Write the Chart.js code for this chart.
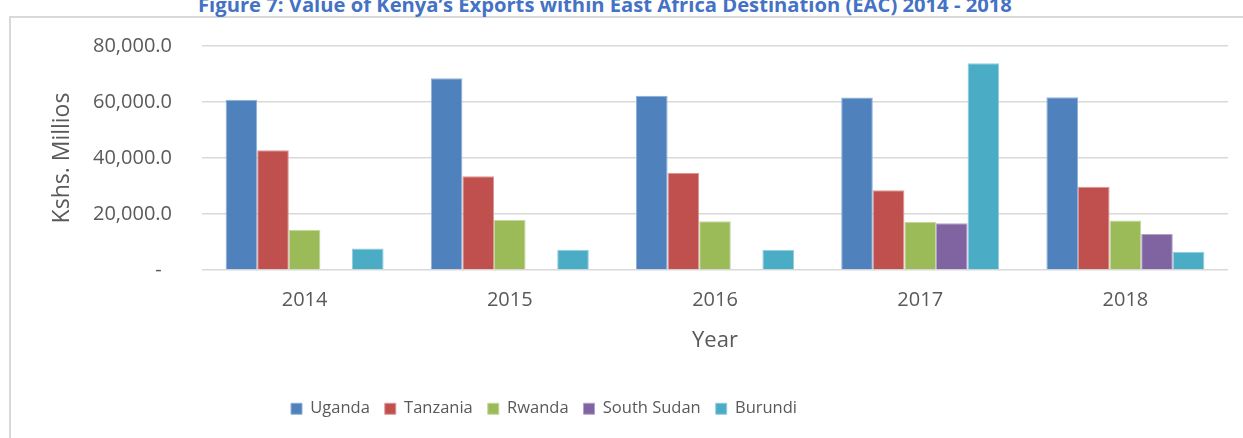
<!DOCTYPE html>
<html><head><meta charset="utf-8">
<script src="https://cdn.jsdelivr.net/npm/chart.js@4"></script>
<style>
html,body{margin:0;padding:0;background:#fff;overflow:hidden;}
#wrap{position:relative;width:1243px;height:438px;overflow:hidden;background:#fff;}
#title{position:absolute;left:198px;top:-6px;font:bold 20.2px "Open Sans",sans-serif;color:#4472C4;white-space:nowrap;line-height:20px;}
#frame{position:absolute;left:9px;top:16px;width:1400px;height:600px;border-left:2px solid #D9D9D9;border-top:2px solid #D9D9D9;}
canvas{position:absolute;left:0;top:0;}
</style></head><body>
<div id="wrap">
<div id="frame"></div>
<div id="title">Figure 7: Value of Kenya’s Exports within East Africa Destination (EAC) 2014 - 2018</div>
<canvas id="c" width="1243" height="438"></canvas>
</div>
<script>
const categories = ['2014', '2015', '2016', '2017', '2018'];
const uganda     = [60800, 68500, 62200, 61600, 61700];
const tanzania   = [42800, 33500, 34700, 28500, 29700];
const rwanda     = [14400, 17900, 17400, 17100, 17700];
const southSudan = [null, null, null, 16700, 12900];
const burundi    = [7700, 7200, 7100, 73800, 6500];
const seriesNames = ['Uganda', 'Tanzania', 'Rwanda', 'South Sudan', 'Burundi'];
const yTicks = [0, 20000, 40000, 60000, 80000];
const yTitle = 'Kshs. Millios';
const xTitle = 'Year';

const colors = ['#4F81BD', '#C0504D', '#9BBB59', '#8064A2', '#4BACC6'];
const edges  = ['#8EB1DC', '#DC9896', '#C3D89E', '#B3A2C8', '#93CDDD'];
const seriesData = [uganda, tanzania, rwanda, southSudan, burundi];

Chart.defaults.font.family = "'Open Sans', sans-serif";

const legendShift = {
  id: 'legendShift',
  afterLayout(chart) {
    const l = chart.legend;
    if (!l) return;
    const dx = 544 - (l.left + l.right) / 2;
    l.left += dx; l.right += dx;
  }
};

new Chart(document.getElementById('c'), {
  type: 'bar',
  data: {
    labels: categories,
    datasets: seriesData.map((d, i) => ({
      label: seriesNames[i],
      data: d,
      backgroundColor: colors[i],
      borderColor: edges[i],
      borderWidth: 1,
      categoryPercentage: 0.77,
      barPercentage: 1.0
    }))
  },
  options: {
    responsive: false,
    animation: false,
    layout: { padding: { left: 0, right: 15, top: 46, bottom: 11 } },
    plugins: {
      tooltip: { enabled: false },
      legend: {
        position: 'bottom',
        labels: {
          boxWidth: 11, boxHeight: 11,
          padding: 15,
          color: '#595959',
          font: { size: 16.5 }
        }
      }
    },
    scales: {
      x: {
        grid: { display: false, drawTicks: false },
        border: { display: false },
        ticks: { color: '#595959', font: { size: 20 }, padding: 18 },
        title: { display: true, text: xTitle, color: '#595959', font: { size: 22 }, padding: { top: 0, bottom: 32 } },
        afterFit(s) { s.height = 115.5; }
      },
      y: {
        min: 0, max: 80000,
        afterBuildTicks(s) { s.ticks = yTicks.map(v => ({ value: v })); },
        grid: { color: '#D9D9D9', lineWidth: 1.6, drawTicks: false },
        border: { display: false },
        ticks: {
          color: '#595959', font: { size: 20 }, padding: 30,
          callback(v) {
            if (v === 0) return '-  ';
            return v.toLocaleString('en-US', { minimumFractionDigits: 1, maximumFractionDigits: 1 });
          }
        },
        title: { display: true, text: yTitle, color: '#595959', font: { size: 23 }, padding: { top: 49, bottom: 0 } },
        afterFit(s) { s.width = 202; }
      }
    }
  },
  plugins: [legendShift]
});
</script>
</body></html>
